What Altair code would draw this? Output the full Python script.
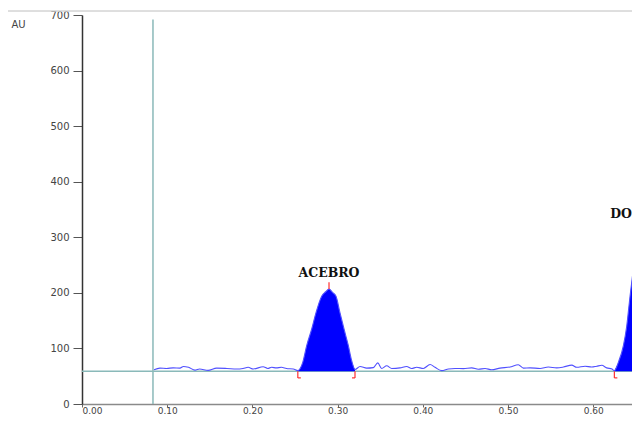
import altair as alt
import pandas as pd

# ---- data ----
x_ticks = [0.0, 0.1, 0.2, 0.3, 0.4, 0.5, 0.6]
y_ticks = [0, 100, 200, 300, 400, 500, 600, 700]

noise_a_t = [0.0845, 0.0915, 0.0994, 0.107, 0.115, 0.119, 0.125, 0.1326, 0.138, 0.148,
             0.158, 0.170, 0.1815, 0.189, 0.195, 0.201, 0.2126, 0.218, 0.2226, 0.228,
             0.234, 0.240, 0.248]
noise_a_au = [61.7, 64.6, 64, 65, 64.6, 67.6, 66, 61, 63, 60.5,
              64.6, 64, 63, 64, 66, 63, 67, 64, 66, 65,
              66, 64, 63]

peak1_t = [0.2533, 0.2560, 0.2591, 0.2637, 0.2696, 0.2746, 0.2813, 0.2860, 0.2899,
           0.2940, 0.2981, 0.3028, 0.3075, 0.3126, 0.3165, 0.3204]
peak1_au = [60, 64, 75, 105, 135, 164, 194, 202, 207,
            201, 194, 164, 135, 105, 78, 62]

noise_b_t = [0.3263, 0.3341, 0.3419, 0.3471, 0.3517, 0.3576, 0.3635, 0.3732, 0.381, 0.3869,
             0.3928, 0.4006, 0.4085, 0.4143, 0.4222, 0.43, 0.4378, 0.4476, 0.4574, 0.4652,
             0.473, 0.4808, 0.4906, 0.5023, 0.5121, 0.518, 0.5258, 0.5376, 0.5473, 0.5571,
             0.565, 0.5748, 0.5806, 0.5904, 0.5982, 0.6041, 0.61, 0.6158, 0.6220]
noise_b_au = [67.6, 64.6, 65.5, 74, 64, 68.8, 64, 65, 67.6, 64,
              66, 64, 71, 66, 60, 63, 64, 63.6, 65, 62.5,
              64, 61.5, 64.6, 66.5, 70.6, 64.6, 65, 64, 66.5, 65,
              66.5, 70, 66, 68, 66.5, 68, 69.6, 65, 63]

peak2_t = [0.6248, 0.6295, 0.6354, 0.6393, 0.6432, 0.6479, 0.6518, 0.6545, 0.660, 0.666]
peak2_au = [60, 75, 105, 140, 194, 253, 300, 313, 305, 270]

peak_names = ["ACEBRO", "DO"]
peak_apex_t = [0.2899, 0.6545]
peak_apex_au = [207, 313]
peak_start_t = [0.2533, 0.6248]
peak_end_t = [0.3204]

baseline_au = 59
void_t = 0.0833
void_top = 692
t_max = 0.6455

# ---- tables ----
signal = pd.DataFrame({
    "t": noise_a_t + peak1_t + noise_b_t + peak2_t,
    "au": noise_a_au + peak1_au + noise_b_au + peak2_au,
})
peaks = pd.concat([
    pd.DataFrame({"t": peak1_t, "au": peak1_au, "peak": peak_names[0]}),
    pd.DataFrame({"t": peak2_t, "au": peak2_au, "peak": peak_names[1]}),
])
peaks["base"] = baseline_au

drop = 12
foot = 0.0035
segs = []
for s in peak_start_t:
    segs.append((s, s, baseline_au, baseline_au - drop))
    segs.append((s, s + foot, baseline_au - drop, baseline_au - drop))
for e in peak_end_t:
    segs.append((e, e, baseline_au, baseline_au - drop))
    segs.append((e - foot, e, baseline_au - drop, baseline_au - drop))
for a, h in zip(peak_apex_t, peak_apex_au):
    segs.append((a, a, h, h + 12))
markers = pd.DataFrame(segs, columns=["t", "t2", "au", "au2"])

# the second label sits at the right edge of the visible window
labels = pd.DataFrame({"t": [peak_apex_t[0], t_max], "au": [h + 22 for h in peak_apex_au],
                       "name": peak_names})

guides = pd.DataFrame({
    "t": [void_t, 0.0],
    "t2": [void_t, t_max],
    "au": [0, baseline_au],
    "au2": [void_top, baseline_au],
})

# ---- encodings ----
xs = alt.Scale(domain=[0, t_max], nice=False, zero=False)
ys = alt.Scale(domain=[0, 700], nice=False)
xax = alt.Axis(values=x_ticks, format=".2f", title=None, grid=False,
               tickSize=3, labelPadding=-1, domainColor="#8a8a8a", tickColor="#666666",
               domainWidth=1.5, labelFontSize=9)
yax = alt.Axis(values=y_ticks, title="AU", grid=False, titleAngle=0, titleX=-71, titleY=12,
               titleAlign="left", titleBaseline="alphabetic", titleFont="DejaVu Sans",
               titleFontSize=10, titleFontWeight="normal", titleColor="#444444",
               tickSize=9, labelPadding=4, domainColor="#333333", tickColor="#555555",
               domainWidth=1.5, labelFontSize=10)
X = alt.X("t:Q", scale=xs, axis=xax)
Y = alt.Y("au:Q", scale=ys, axis=yax)

guide_layer = alt.Chart(guides).mark_rule(color="#8ab9b9", strokeWidth=1.5).encode(
    x=X, x2="t2:Q", y=Y, y2="au2:Q")

area_layer = alt.Chart(peaks).mark_area(color="#0000ff", interpolate="monotone", clip=True).encode(
    x=X, y=Y, y2="base:Q", detail="peak:N")

line_layer = alt.Chart(signal).mark_line(color="#5050ff", strokeWidth=1.1, interpolate="monotone",
                                         clip=True).encode(x=X, y=Y)

marker_layer = alt.Chart(markers).mark_rule(color="#ff3030", strokeWidth=1.2, clip=True).encode(
    x=X, x2="t2:Q", y=Y, y2="au2:Q")

text_style = dict(font="DejaVu Serif", fontWeight="bold", fontSize=12.5,
                  color="#111111", baseline="alphabetic")
label_layer = alt.Chart(labels.iloc[:1]).mark_text(align="center", **text_style).encode(
    x=X, y=Y, text="name:N")
label_edge_layer = alt.Chart(labels.iloc[1:]).mark_text(align="right", **text_style).encode(
    x=X, y=Y, text="name:N")

frame_layer = alt.Chart(guides).mark_rule(color="#d4d4d4", strokeWidth=1).encode(
    x=alt.value(-75), x2=alt.value(550), y=alt.value(-4))

chart = alt.layer(guide_layer, area_layer, line_layer, marker_layer, label_layer,
                  label_edge_layer, frame_layer).properties(
    width=550, height=389,
    autosize=alt.AutoSizeParams(type="none"),
    padding={"left": 74, "top": 7, "right": 0, "bottom": 10},
).configure_view(stroke=None).configure_axis(
    labelFont="DejaVu Sans", labelColor="#444444",
)

chart.save("out.html", embed_options={"renderer": "svg", "actions": False})
